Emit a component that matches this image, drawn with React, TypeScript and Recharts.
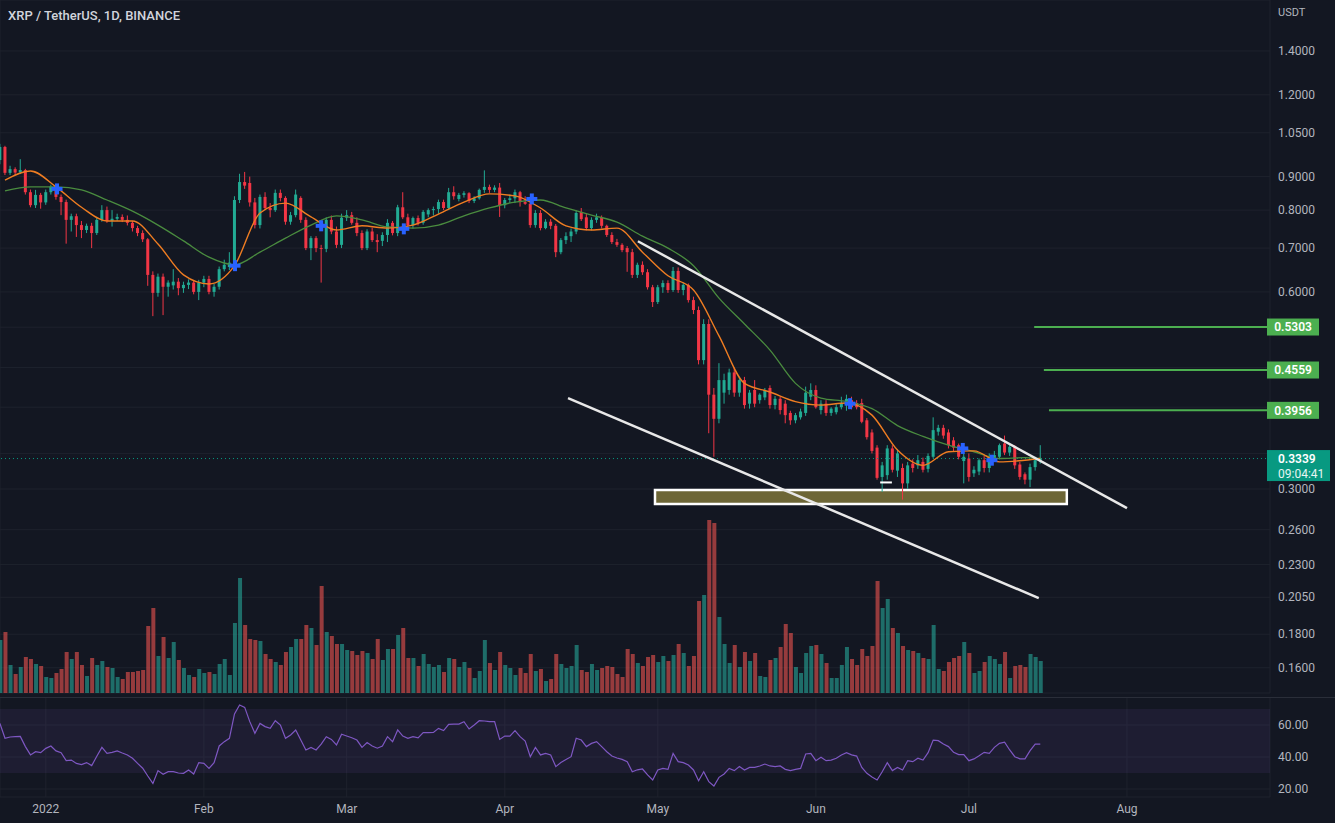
import React from "react";
import {
  Bar,
  Cell,
  ComposedChart,
  Line,
  ReferenceArea,
  ReferenceDot,
  ReferenceLine,
  XAxis,
  YAxis,
  CartesianGrid,
} from "recharts";

const WIDTH = 1335;
const MAIN_H = 697;
const RSI_H = 126;
const AXIS_W = 65;
const PLOT_RIGHT = WIDTH - AXIS_W;

const BG = "#131722";
const GRID = "#1e222d";
const TEXT = "#b2b5be";
const UP = "#22ab94";
const DOWN = "#f23645";
const FONT = "'Trebuchet MS', Roboto, sans-serif";

// day index: -1 = 2021-12-23, 8 = 2022-01-01, 203 = 2022-07-15
const FIRST_DAY = -1;
const X_DOMAIN: [number, number] = [-0.98, 248.04];
const PRICE_DOMAIN: [number, number] = [0.1464, 1.675];

const opens = [
  0.954, 0.999, 0.912, 0.924, 0.913, 0.921, 0.852, 0.814, 0.844, 0.822,
  0.852, 0.869, 0.838, 0.823, 0.773, 0.783, 0.759, 0.746, 0.757, 0.738,
  0.773, 0.8, 0.77, 0.776, 0.781, 0.773, 0.765, 0.751, 0.738, 0.722,
  0.637, 0.598, 0.633, 0.611, 0.614, 0.622, 0.608, 0.615, 0.62, 0.6,
  0.62, 0.628, 0.6, 0.611, 0.65, 0.655, 0.665, 0.829, 0.883, 0.88,
  0.822, 0.759, 0.838, 0.806, 0.8, 0.85, 0.835, 0.768, 0.786, 0.835,
  0.773, 0.7, 0.725, 0.7, 0.698, 0.773, 0.742, 0.708, 0.779, 0.786,
  0.765, 0.738, 0.7, 0.742, 0.72, 0.718, 0.733, 0.765, 0.738, 0.808,
  0.78, 0.759, 0.778, 0.765, 0.788, 0.8, 0.803, 0.823, 0.806, 0.852,
  0.832, 0.844, 0.849, 0.826, 0.834, 0.859, 0.868, 0.859, 0.866, 0.814,
  0.829, 0.834, 0.852, 0.823, 0.818, 0.759, 0.792, 0.751, 0.768, 0.757,
  0.69, 0.72, 0.73, 0.742, 0.795, 0.78, 0.751, 0.773, 0.78, 0.757,
  0.733, 0.715, 0.708, 0.7, 0.69, 0.637, 0.66, 0.643, 0.61, 0.579,
  0.61, 0.619, 0.604, 0.646, 0.604, 0.615, 0.583, 0.563, 0.472, 0.536,
  0.418, 0.384, 0.421, 0.425, 0.452, 0.421, 0.44, 0.405, 0.425, 0.41,
  0.414, 0.428, 0.403, 0.412, 0.405, 0.392, 0.382, 0.386, 0.392, 0.415,
  0.425, 0.396, 0.405, 0.392, 0.393, 0.4, 0.403, 0.41, 0.406, 0.406,
  0.382, 0.366, 0.347, 0.313, 0.315, 0.346, 0.32, 0.323, 0.306, 0.328,
  0.326, 0.33, 0.322, 0.336, 0.367, 0.372, 0.366, 0.356, 0.35, 0.331,
  0.334, 0.317, 0.319, 0.332, 0.323, 0.334, 0.336, 0.352, 0.341, 0.348,
  0.327, 0.316, 0.31, 0.324, 0.331,
];
const highs = [
  1.01, 1.003, 0.935, 0.93, 0.957, 0.925, 0.86, 0.859, 0.85, 0.86,
  0.875, 0.872, 0.845, 0.83, 0.79, 0.79, 0.77, 0.763, 0.765, 0.778,
  0.814, 0.81, 0.8, 0.79, 0.788, 0.785, 0.77, 0.757, 0.745, 0.725,
  0.645, 0.64, 0.64, 0.625, 0.65, 0.63, 0.622, 0.627, 0.625, 0.626,
  0.635, 0.635, 0.617, 0.656, 0.672, 0.69, 0.84, 0.909, 0.915, 0.9,
  0.835, 0.845, 0.852, 0.82, 0.86, 0.86, 0.84, 0.795, 0.86, 0.84,
  0.78, 0.73, 0.73, 0.708, 0.78, 0.785, 0.755, 0.79, 0.8, 0.795,
  0.78, 0.745, 0.748, 0.752, 0.735, 0.74, 0.775, 0.77, 0.815, 0.852,
  0.79, 0.782, 0.785, 0.8, 0.805, 0.81, 0.83, 0.83, 0.865, 0.87,
  0.85, 0.855, 0.852, 0.84, 0.863, 0.92, 0.875, 0.873, 0.88, 0.835,
  0.845, 0.86, 0.856, 0.84, 0.822, 0.8, 0.8, 0.775, 0.775, 0.762,
  0.725, 0.74, 0.75, 0.8, 0.806, 0.79, 0.78, 0.79, 0.785, 0.76,
  0.74, 0.723, 0.712, 0.705, 0.698, 0.665, 0.668, 0.65, 0.615, 0.615,
  0.625, 0.625, 0.655, 0.654, 0.62, 0.618, 0.59, 0.57, 0.545, 0.545,
  0.428, 0.467, 0.45, 0.458, 0.46, 0.445, 0.445, 0.425, 0.44, 0.42,
  0.428, 0.432, 0.416, 0.415, 0.41, 0.395, 0.392, 0.398, 0.43, 0.435,
  0.432, 0.41, 0.41, 0.4, 0.404, 0.415, 0.418, 0.415, 0.41, 0.412,
  0.385, 0.37, 0.35, 0.33, 0.35, 0.35, 0.345, 0.328, 0.33, 0.333,
  0.338, 0.335, 0.34, 0.386, 0.376, 0.376, 0.37, 0.36, 0.352, 0.34,
  0.34, 0.325, 0.334, 0.337, 0.34, 0.343, 0.352, 0.362, 0.352, 0.35,
  0.33, 0.318, 0.328, 0.336, 0.35,
];
const lows = [
  0.94, 0.905, 0.905, 0.905, 0.908, 0.845, 0.808, 0.806, 0.804, 0.815,
  0.845, 0.83, 0.786, 0.711, 0.742, 0.728, 0.725, 0.738, 0.7, 0.733,
  0.768, 0.765, 0.755, 0.77, 0.767, 0.758, 0.742, 0.73, 0.715, 0.613,
  0.551, 0.59, 0.553, 0.59, 0.605, 0.593, 0.598, 0.606, 0.595, 0.583,
  0.61, 0.595, 0.59, 0.605, 0.645, 0.648, 0.658, 0.82, 0.862, 0.81,
  0.75, 0.75, 0.8, 0.78, 0.795, 0.825, 0.76, 0.76, 0.78, 0.765,
  0.695, 0.671, 0.69, 0.62, 0.69, 0.735, 0.7, 0.7, 0.77, 0.76,
  0.73, 0.695, 0.695, 0.715, 0.69, 0.705, 0.715, 0.732, 0.73, 0.775,
  0.752, 0.75, 0.758, 0.76, 0.78, 0.785, 0.79, 0.8, 0.8, 0.83,
  0.825, 0.836, 0.82, 0.82, 0.83, 0.85, 0.85, 0.852, 0.781, 0.805,
  0.82, 0.82, 0.81, 0.815, 0.752, 0.752, 0.745, 0.748, 0.748, 0.678,
  0.685, 0.71, 0.715, 0.735, 0.77, 0.745, 0.745, 0.765, 0.75, 0.728,
  0.71, 0.703, 0.69, 0.644, 0.63, 0.63, 0.637, 0.605, 0.569, 0.575,
  0.598, 0.598, 0.6, 0.598, 0.593, 0.578, 0.555, 0.465, 0.465, 0.365,
  0.336, 0.378, 0.405, 0.418, 0.415, 0.415, 0.398, 0.398, 0.4, 0.405,
  0.41, 0.398, 0.397, 0.39, 0.378, 0.376, 0.378, 0.383, 0.388, 0.41,
  0.398, 0.39, 0.388, 0.388, 0.39, 0.397, 0.395, 0.397, 0.397, 0.378,
  0.357, 0.34, 0.31, 0.297, 0.31, 0.318, 0.313, 0.289, 0.3, 0.318,
  0.322, 0.318, 0.318, 0.334, 0.362, 0.358, 0.346, 0.342, 0.333, 0.306,
  0.308, 0.313, 0.315, 0.318, 0.318, 0.33, 0.333, 0.338, 0.337, 0.322,
  0.31, 0.305, 0.302, 0.32, 0.328,
];
const closes = [
  0.999, 0.912, 0.924, 0.913, 0.921, 0.852, 0.814, 0.844, 0.822, 0.852,
  0.869, 0.838, 0.823, 0.773, 0.783, 0.759, 0.746, 0.757, 0.738, 0.773,
  0.8, 0.77, 0.776, 0.781, 0.773, 0.765, 0.751, 0.738, 0.722, 0.637,
  0.598, 0.633, 0.611, 0.62, 0.622, 0.608, 0.615, 0.62, 0.6, 0.62,
  0.628, 0.6, 0.611, 0.65, 0.66, 0.665, 0.829, 0.883, 0.872, 0.822,
  0.759, 0.838, 0.806, 0.8, 0.85, 0.835, 0.768, 0.786, 0.845, 0.773,
  0.7, 0.725, 0.7, 0.698, 0.773, 0.742, 0.708, 0.779, 0.786, 0.765,
  0.738, 0.7, 0.742, 0.72, 0.715, 0.733, 0.765, 0.738, 0.808, 0.78,
  0.759, 0.778, 0.765, 0.795, 0.8, 0.803, 0.823, 0.806, 0.852, 0.84,
  0.844, 0.849, 0.826, 0.834, 0.859, 0.868, 0.859, 0.866, 0.814, 0.829,
  0.834, 0.852, 0.823, 0.818, 0.759, 0.792, 0.751, 0.768, 0.757, 0.69,
  0.72, 0.73, 0.742, 0.792, 0.775, 0.751, 0.773, 0.78, 0.757, 0.733,
  0.715, 0.708, 0.695, 0.69, 0.637, 0.66, 0.643, 0.61, 0.579, 0.61,
  0.619, 0.604, 0.646, 0.604, 0.615, 0.583, 0.563, 0.472, 0.536, 0.418,
  0.384, 0.44, 0.44, 0.452, 0.421, 0.44, 0.403, 0.421, 0.405, 0.418,
  0.424, 0.403, 0.412, 0.396, 0.389, 0.382, 0.389, 0.394, 0.421, 0.425,
  0.4, 0.405, 0.392, 0.398, 0.4, 0.406, 0.412, 0.4, 0.4, 0.38,
  0.36, 0.343, 0.312, 0.326, 0.346, 0.321, 0.34, 0.306, 0.326, 0.323,
  0.332, 0.321, 0.337, 0.369, 0.372, 0.362, 0.35, 0.347, 0.336, 0.336,
  0.313, 0.321, 0.332, 0.323, 0.336, 0.338, 0.35, 0.341, 0.348, 0.326,
  0.313, 0.31, 0.324, 0.332, 0.3339,
];
// volume, millions of XRP
const volumes = [
  530, 610, 280, 190, 260, 360, 340, 290, 270, 160,
  150, 200, 240, 410, 340, 410, 280, 170, 350, 280,
  320, 260, 250, 160, 140, 210, 210, 220, 230, 670,
  850, 370, 560, 350, 510, 330, 250, 180, 160, 240,
  200, 210, 190, 290, 340, 180, 700, 1150, 680, 540,
  530, 520, 390, 340, 310, 280, 410, 460, 540, 540,
  680, 650, 480, 1070, 610, 570, 490, 490, 430, 420,
  380, 420, 400, 340, 540, 330, 440, 440, 580, 650,
  350, 350, 270, 390, 290, 260, 280, 210, 350, 340,
  260, 310, 250, 150, 220, 530, 300, 230, 410, 280,
  250, 180, 250, 200, 390, 220, 240, 120, 140, 390,
  290, 250, 270, 480, 230, 210, 290, 230, 250, 270,
  260, 190, 160, 440, 390, 300, 270, 360, 380, 310,
  370, 320, 380, 490, 400, 270, 370, 920, 980, 1730,
  1700, 760, 490, 300, 480, 260, 410, 320, 400, 170,
  160, 330, 350, 460, 690, 600, 260, 200, 400, 470,
  480, 390, 300, 150, 150, 280, 460, 340, 280, 440,
  370, 470, 1120, 850, 940, 650, 600, 470, 430, 420,
  400, 350, 340, 680, 240, 220, 310, 350, 370, 510,
  400, 200, 220, 310, 370, 340, 290, 410, 150, 270,
  280, 260, 390, 360, 320,
];
const rsiValues = [
  61.0, 51.7, 52.5, 52.7, 52.9, 46.5, 41.3, 43.3, 42.7, 45.4,
  46.9, 43.8, 42.7, 37.7, 38.1, 36.0, 35.3, 36.5, 34.6, 40.5,
  46.0, 42.3, 42.9, 43.8, 42.5, 41.3, 39.2, 36.0, 33.0, 28.1,
  23.5, 31.5, 29.2, 30.8, 30.8, 30.0, 29.8, 31.9, 29.4, 36.5,
  36.0, 32.9, 36.5, 46.9, 49.6, 51.7, 66.9, 72.5, 71.0, 62.1,
  54.8, 61.0, 59.0, 57.9, 62.7, 60.0, 51.7, 53.8, 56.9, 50.6,
  44.4, 46.0, 44.4, 48.0, 52.7, 51.0, 47.5, 54.2, 53.1, 52.0,
  50.6, 46.0, 49.0, 46.9, 45.5, 46.9, 52.7, 49.6, 56.9, 53.1,
  51.7, 52.7, 52.0, 55.2, 55.2, 55.4, 57.9, 56.5, 60.4, 60.6,
  60.6, 62.1, 57.5, 60.0, 62.7, 62.5, 62.1, 62.1, 51.0, 53.1,
  53.1, 56.5, 52.7, 50.0, 40.2, 46.0, 41.3, 42.3, 41.3, 34.0,
  36.5, 38.5, 40.2, 51.7, 50.6, 46.5, 48.5, 49.6, 46.5, 43.3,
  40.6, 39.4, 38.5, 37.1, 30.8, 32.0, 32.5, 28.8, 25.6, 31.9,
  32.9, 32.3, 42.3, 37.1, 36.5, 35.0, 31.9, 25.2, 30.8, 24.6,
  21.9, 27.3, 29.4, 32.9, 31.5, 34.0, 31.9, 33.5, 33.5, 34.4,
  35.6, 34.4, 34.0, 34.4, 32.3, 31.5, 32.3, 32.9, 41.9, 42.3,
  37.7, 39.8, 37.7, 38.1, 39.2, 41.3, 42.7, 41.3, 40.6, 33.5,
  29.8, 27.5, 25.6, 30.8, 36.5, 31.5, 33.5, 31.9, 37.7, 37.1,
  39.2, 38.1, 42.7, 50.6, 50.2, 48.1, 46.5, 42.9, 41.5, 41.5,
  37.7, 38.8, 40.8, 42.9, 42.3, 46.0, 48.5, 49.2, 44.4, 40.2,
  38.8, 38.8, 44.0, 48.1, 48.1,
];

// moving averages read every 5th day
const emaDays = [
  0, 5, 10, 15, 20, 25, 30, 35, 40, 45, 50, 55, 60, 65, 70, 75, 80, 85, 90, 95, 100,
  105, 110, 115, 120, 125, 130, 135, 140, 145, 150, 155, 160, 165, 170, 175, 180, 185,
  190, 195, 200, 203,
];
const emaFast = [
  0.889, 0.918, 0.868, 0.808, 0.77, 0.77, 0.71, 0.637, 0.617, 0.658, 0.792, 0.82, 0.781,
  0.746, 0.757, 0.751, 0.759, 0.789, 0.823, 0.847, 0.841, 0.806, 0.757, 0.746, 0.751,
  0.69, 0.635, 0.604, 0.514, 0.435, 0.422, 0.408, 0.403, 0.406, 0.389, 0.344, 0.326,
  0.342, 0.343, 0.33, 0.332, 0.334,
];
const emaSlow = [
  0.856, 0.868, 0.868, 0.859, 0.829, 0.797, 0.759, 0.718, 0.678, 0.66, 0.69, 0.725, 0.759,
  0.784, 0.773, 0.754, 0.751, 0.759, 0.784, 0.806, 0.823, 0.829, 0.806, 0.786, 0.767,
  0.73, 0.7, 0.658, 0.587, 0.536, 0.489, 0.435, 0.413, 0.408, 0.398, 0.375, 0.361, 0.35,
  0.342, 0.334, 0.335, 0.334,
];

const crossDays = [10.2, 45.1, 62.0, 78.2, 103.3, 165.7, 187.8, 193.5];
const crossPrices = [0.862, 0.658, 0.757, 0.749, 0.832, 0.405, 0.346, 0.332];

const monthTicks = [8, 39, 67, 98, 128, 159, 189, 220];
const monthLabels = ["2022", "Feb", "Mar", "Apr", "May", "Jun", "Jul", "Aug"];
const priceTicks = [1.4, 1.2, 1.05, 0.9, 0.8, 0.7, 0.6, 0.53, 0.46, 0.4, 0.34, 0.3, 0.26, 0.23, 0.205, 0.18, 0.16];
// these tick labels sit under the price tags on the axis
const coveredTicks = [0.53, 0.46, 0.4, 0.34];
const rsiTicks = [20, 40, 60];

const targetPrices = [0.5303, 0.4559, 0.3956];
const targetStarts = [201.8, 203.7, 204.7];
const lastPrice = 0.3339;
const countdown = "09:04:41";

const upperTrend = [
  { x: 124.1, y: 0.717 },
  { x: 220.0, y: 0.2805 },
];
const lowerTrend = [
  { x: 110.4, y: 0.413 },
  { x: 202.7, y: 0.2044 },
];
const supportZone = { x1: 127.45, x2: 208.2, y1: 0.2846, y2: 0.299 };
const lowMark = [
  { x: 171.6, y: 0.307 },
  { x: 173.9, y: 0.307 },
];

const rows = opens.map((o, k) => {
  const t = FIRST_DAY + k;
  const e = emaDays.indexOf(t);
  return {
    t,
    o,
    h: highs[k],
    l: lows[k],
    c: closes[k],
    range: [lows[k], highs[k]],
    vol: volumes[k],
    rsi: rsiValues[k],
    emaFast: e >= 0 ? emaFast[e] : null,
    emaSlow: e >= 0 ? emaSlow[e] : null,
  };
});

function Candle(props: any) {
  const { x, y, width, height, payload } = props;
  if (!payload || height == null) return null;
  const { o, h, l, c } = payload;
  const color = c >= o ? UP : DOWN;
  const lh = Math.log(h);
  const ll = Math.log(l);
  const py = (v: number) => y + ((lh - Math.log(v)) / (lh - ll)) * height;
  const mid = x + width / 2;
  const top = py(Math.max(o, c));
  const bot = py(Math.min(o, c));
  return (
    <g>
      <line x1={mid} x2={mid} y1={y} y2={y + height} stroke={color} strokeWidth={1} />
      <rect x={x} y={top} width={width} height={Math.max(1, bot - top)} fill={color} />
    </g>
  );
}

function PriceTick(props: any) {
  const { x, y, payload } = props;
  const v = payload.value;
  if (coveredTicks.includes(v)) return <g />;
  return (
    <text x={x} y={y} dy="0.35em" fill={TEXT} fontSize={12} textAnchor="start">
      {v.toFixed(4)}
    </text>
  );
}

function RsiTick(props: any) {
  const { x, y, payload } = props;
  return (
    <text x={x} y={y} dy="0.35em" fill={TEXT} fontSize={12} textAnchor="start">
      {payload.value.toFixed(2)}
    </text>
  );
}

function MonthTick(props: any) {
  const { x, y, payload } = props;
  const label = monthLabels[monthTicks.indexOf(payload.value)];
  return (
    <text x={x} y={y} dy={8} fill={TEXT} fontSize={12} textAnchor="middle">
      {label}
    </text>
  );
}

function TargetTag(props: any) {
  const { viewBox, value } = props;
  const y = viewBox.y;
  return (
    <g>
      <rect x={PLOT_RIGHT - 3} y={y - 8.5} width={52} height={17} fill="#4caf50" />
      <text x={PLOT_RIGHT + 23} y={y} dy="0.36em" textAnchor="middle" fill="#ffffff" fontSize={12} fontWeight={600}>
        {value.toFixed(4)}
      </text>
    </g>
  );
}

function LastTag(props: any) {
  const y = props.viewBox.y;
  return (
    <g>
      <rect x={PLOT_RIGHT - 3} y={y - 8.5} width={63} height={31} fill="#089981" />
      <text x={PLOT_RIGHT + 8} y={y} dy="0.36em" fill="#ffffff" fontSize={12} fontWeight={600}>
        {lastPrice.toFixed(4)}
      </text>
      <text x={PLOT_RIGHT + 8} y={y + 15} dy="0.36em" fill="#e6f5f2" fontSize={12}>
        {countdown}
      </text>
    </g>
  );
}

function CrossMark(props: any) {
  const { cx, cy } = props;
  return (
    <g>
      <rect x={cx - 5.5} y={cy - 2} width={11} height={4} fill="#2962ff" />
      <rect x={cx - 2} y={cy - 5.5} width={4} height={11} fill="#2962ff" />
    </g>
  );
}

export default function App() {
  return (
    <div
      style={{
        position: "relative",
        width: WIDTH,
        height: MAIN_H + RSI_H,
        background: BG,
        fontFamily: FONT,
        overflow: "hidden",
      }}
    >
      <style>{"body{margin:0;background:#131722}"}</style>

      <ComposedChart width={WIDTH} height={MAIN_H} data={rows} margin={{ top: 0, right: 0, bottom: 4, left: 0 }}>
        <CartesianGrid stroke={GRID} />
        <XAxis
          dataKey="t"
          type="number"
          domain={X_DOMAIN}
          ticks={monthTicks}
          interval={0}
          allowDataOverflow
          height={0}
          tick={false}
          axisLine={false}
          tickLine={false}
        />
        <XAxis xAxisId="v" dataKey="t" type="number" domain={X_DOMAIN} allowDataOverflow hide />
        <YAxis
          orientation="right"
          width={AXIS_W}
          scale="log"
          domain={PRICE_DOMAIN}
          ticks={priceTicks}
          interval={0}
          allowDataOverflow
          axisLine={false}
          tickLine={false}
          tickSize={0}
          tickMargin={8}
          tick={<PriceTick />}
        />
        <YAxis yAxisId="v" domain={[0, 6930]} allowDataOverflow hide />

        <Bar xAxisId="v" yAxisId="v" dataKey="vol" barSize={4} isAnimationActive={false}>
          {rows.map((r) => (
            <Cell key={r.t} fill={r.c >= r.o ? "#26a69a" : "#ef5350"} fillOpacity={0.6} />
          ))}
        </Bar>

        <ReferenceLine
          y={lastPrice}
          stroke="#089981"
          strokeDasharray="1 3"
          ifOverflow="visible"
          label={(p: any) => <LastTag {...p} />}
        />

        <Bar dataKey="range" barSize={3} shape={(p: any) => <Candle {...p} />} isAnimationActive={false} />

        <Line
          dataKey="emaSlow"
          type="monotone"
          stroke="#4a8c3f"
          strokeWidth={1.3}
          dot={false}
          connectNulls
          isAnimationActive={false}
        />
        <Line
          dataKey="emaFast"
          type="monotone"
          stroke="#ef7d22"
          strokeWidth={1.4}
          dot={false}
          connectNulls
          isAnimationActive={false}
        />

        {crossDays.map((d, k) => (
          <ReferenceDot key={d} x={d} y={crossPrices[k]} r={5} ifOverflow="visible" shape={(p: any) => <CrossMark {...p} />} />
        ))}

        <ReferenceLine segment={upperTrend} stroke="#e8e8e8" strokeWidth={2.5} ifOverflow="visible" />
        <ReferenceLine segment={lowerTrend} stroke="#e8e8e8" strokeWidth={2.5} ifOverflow="visible" />
        <ReferenceLine segment={lowMark} stroke="#ffffff" strokeWidth={2} ifOverflow="visible" />

        <ReferenceArea
          x1={supportZone.x1}
          x2={supportZone.x2}
          y1={supportZone.y1}
          y2={supportZone.y2}
          fill="#c8b64a"
          fillOpacity={0.5}
          stroke="#ffffff"
          strokeWidth={2.5}
          ifOverflow="visible"
        />

        {targetPrices.map((p, k) => (
          <ReferenceLine
            key={p}
            segment={[
              { x: targetStarts[k], y: p },
              { x: 248, y: p },
            ]}
            stroke="#4caf50"
            strokeWidth={2}
            ifOverflow="visible"
            label={(lp: any) => <TargetTag {...lp} value={p} />}
          />
        ))}
      </ComposedChart>

      <ComposedChart width={WIDTH} height={RSI_H} data={rows} margin={{ top: 0, right: 0, bottom: 0, left: 0 }}>
        <CartesianGrid stroke={GRID} />
        <XAxis
          dataKey="t"
          type="number"
          domain={X_DOMAIN}
          ticks={monthTicks}
          interval={0}
          allowDataOverflow
          height={26}
          axisLine={false}
          tickLine={false}
          tick={<MonthTick />}
        />
        <YAxis
          orientation="right"
          width={AXIS_W}
          domain={[15, 77.5]}
          ticks={rsiTicks}
          interval={0}
          allowDataOverflow
          axisLine={false}
          tickLine={false}
          tickSize={0}
          tickMargin={8}
          tick={<RsiTick />}
        />
        <ReferenceArea y1={30} y2={70} fill="#7e57c2" fillOpacity={0.1} stroke="none" />
        <Line dataKey="rsi" stroke="#7e57c2" strokeWidth={1.2} dot={false} isAnimationActive={false} />
      </ComposedChart>

      <div style={{ position: "absolute", left: 0, top: MAIN_H, width: WIDTH, height: 1, background: "#2a2e39" }} />
      <div style={{ position: "absolute", left: 8, top: 8, fontSize: 13, color: "#d1d4dc", fontWeight: 500 }}>
        XRP / TetherUS, 1D, BINANCE
      </div>
      <div style={{ position: "absolute", left: 1278, top: 6, fontSize: 11, color: TEXT }}>USDT</div>
    </div>
  );
}
